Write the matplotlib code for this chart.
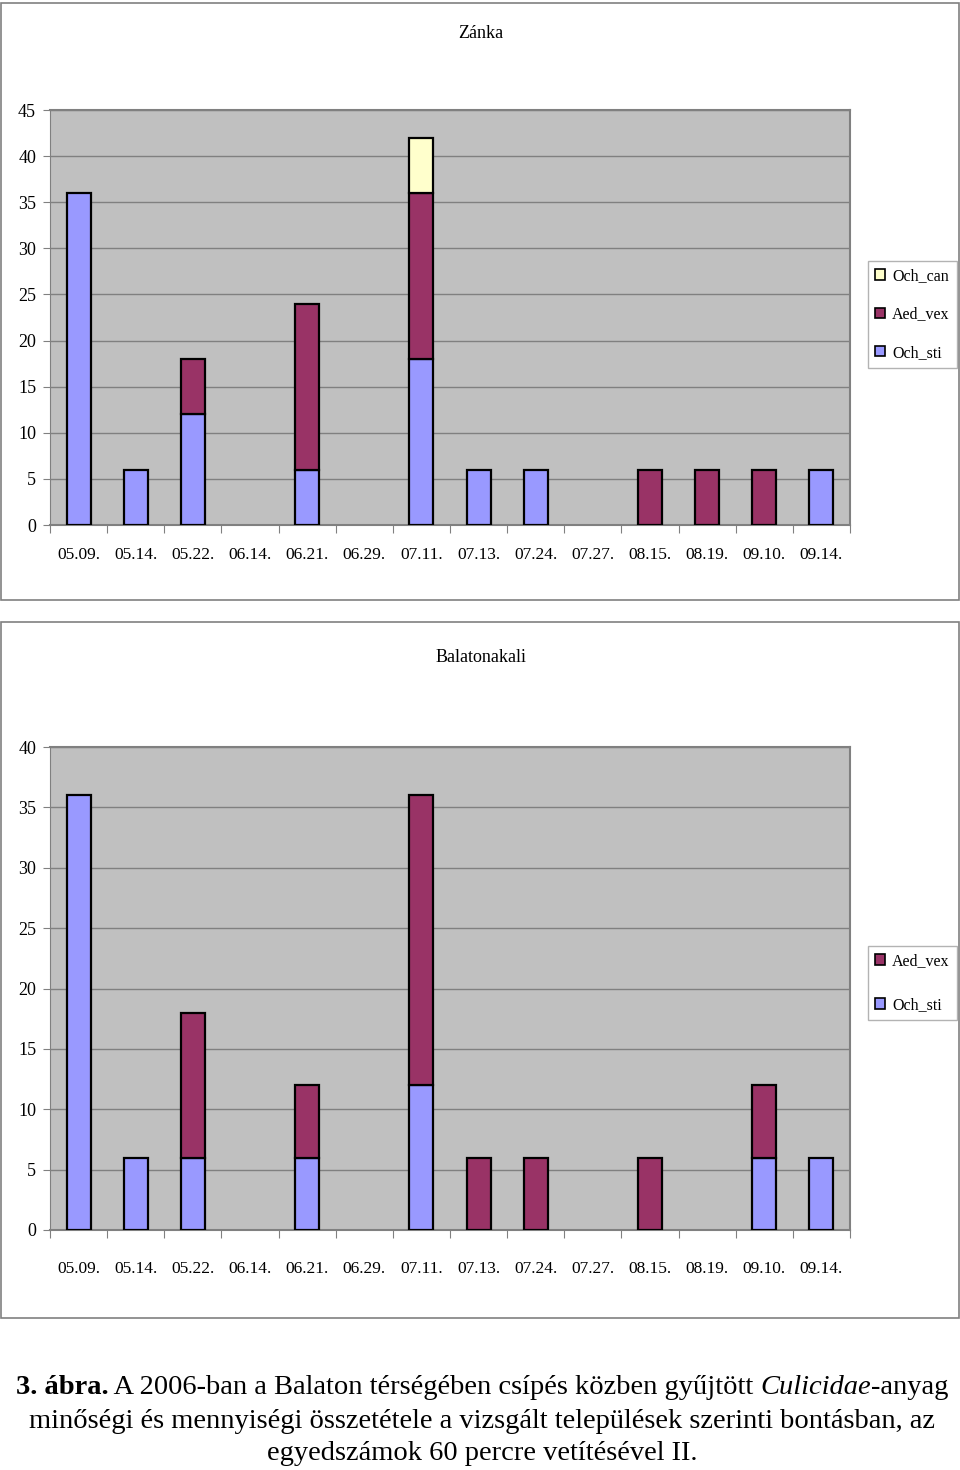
import matplotlib
matplotlib.use('Agg')
import matplotlib.pyplot as plt
from matplotlib.patches import Rectangle, Patch
import numpy as np

plt.rcParams['font.family'] = ['Liberation Serif', 'DejaVu Serif']

dates = ['05.09.', '05.14.', '05.22.', '06.14.', '06.21.', '06.29.', '07.11.',
         '07.13.', '07.24.', '07.27.', '08.15.', '08.19.', '09.10.', '09.14.']

# Zánka
z_och_sti = [36, 6, 12, 0, 6, 0, 18, 6, 6, 0, 0, 0, 0, 6]
z_aed_vex = [0, 0, 6, 0, 18, 0, 18, 0, 0, 0, 6, 6, 6, 0]
z_och_can = [0, 0, 0, 0, 0, 0, 6, 0, 0, 0, 0, 0, 0, 0]

# Balatonakali
b_och_sti = [36, 6, 6, 0, 6, 0, 12, 0, 0, 0, 0, 0, 6, 6]
b_aed_vex = [0, 0, 12, 0, 6, 0, 24, 6, 6, 0, 6, 0, 6, 0]

colors = {'Och_sti': '#9999FF', 'Aed_vex': '#993366', 'Och_can': '#FFFFCC'}

W, H = 960, 1470
fig = plt.figure(figsize=(W / 100, H / 100), dpi=100)
fig.patch.set_facecolor('white')


def fx(px):
    return px / W


def fy(py):
    return 1 - py / H


def panel(box, area, title, title_y, series, ymax, legend_xy, spacing, xpad):
    # outer frame of the chart object
    x0, y0, x1, y1 = box
    fig.patches.append(Rectangle((fx(x0), fy(y1)), fx(x1 - x0), (y1 - y0) / H,
                                 transform=fig.transFigure, fill=False,
                                 edgecolor='#808080', linewidth=1.2))
    fig.text(fx(481), fy(title_y), title, ha='center', va='center', fontsize=13)

    ax0, ay0, ax1, ay1 = area
    ax = fig.add_axes([fx(ax0), fy(ay1), fx(ax1 - ax0), (ay1 - ay0) / H])
    ax.set_facecolor('#C0C0C0')
    x = np.arange(len(dates))
    bottom = np.zeros(len(dates))
    handles = []
    for name, vals in series:
        v = np.array(vals, dtype=float)
        mask = v > 0
        ax.bar(x[mask], v[mask], bottom=bottom[mask], width=0.42,
               color=colors[name], edgecolor='black', linewidth=1.6, zorder=3)
        bottom += v
        handles.append(Patch(facecolor=colors[name], edgecolor='black', linewidth=1.2, label=name))

    ax.set_xlim(-0.5, len(dates) - 0.5)
    ax.set_ylim(0, ymax)
    ax.set_yticks(np.arange(0, ymax + 1, 5))
    ax.yaxis.grid(True, color='#808080', linewidth=1.0, zorder=1)
    ax.set_axisbelow(True)
    ax.tick_params(axis='y', length=5, width=0.8, color='#808080', pad=5, labelsize=13)

    ax.set_xticks(x)
    ax.set_xticklabels(dates)
    ax.tick_params(axis='x', which='major', length=0, pad=xpad, labelsize=12.5)
    ax.set_xticks(np.arange(-0.5, len(dates), 1), minor=True)
    ax.tick_params(axis='x', which='minor', length=6, width=0.8, color='#808080')

    for side in ['top', 'right']:
        ax.spines[side].set_color('#808080')
        ax.spines[side].set_linewidth(1.5)
    ax.spines['left'].set_color('#808080')
    ax.spines['bottom'].set_color('#808080')
    ax.spines['bottom'].set_linewidth(1.5)

    lx, ly = legend_xy
    leg = fig.legend(handles=handles[::-1], loc='upper left',
                     bbox_to_anchor=(fx(lx), fy(ly)),
                     fontsize=11.5, frameon=True, fancybox=False,
                     edgecolor='#A0A0A0', handlelength=0.6, handleheight=0.6,
                     handletextpad=0.45, labelspacing=spacing, borderpad=0.45,
                     borderaxespad=0)
    leg.get_frame().set_linewidth(1.0)
    return ax


panel((1, 3, 959, 600), (50, 110, 850, 525), 'Zánka', 34,
      [('Och_sti', z_och_sti), ('Aed_vex', z_aed_vex), ('Och_can', z_och_can)],
      45, (868, 261), 1.4, 16)

panel((1, 622, 959, 1318), (50, 747, 850, 1230), 'Balatonakali', 658,
      [('Och_sti', b_och_sti), ('Aed_vex', b_aed_vex)],
      40, (868, 946), 1.75, 22)

# caption with mixed styles
fs = 20.5
lines = [
    [('3. ábra.', 'bold', 'normal'),
     (' A 2006-ban a Balaton térségében csípés közben gyűjtött ', 'normal', 'normal'),
     ('Culicidae', 'normal', 'italic'),
     ('-anyag', 'normal', 'normal')],
    [('minőségi és mennyiségi összetétele a vizsgált települések szerinti bontásban, az',
      'normal', 'normal')],
    [('egyedszámok 60 percre vetítésével II.', 'normal', 'normal')],
]
line_y = [1388, 1421, 1453]

fig.canvas.draw()
renderer = fig.canvas.get_renderer()
for parts, yy in zip(lines, line_y):
    texts = []
    for s, wgt, sty in parts:
        t = fig.text(0, fy(yy), s, fontsize=fs, fontweight=wgt, fontstyle=sty,
                     ha='left', va='center')
        texts.append(t)
    widths = [t.get_window_extent(renderer).width for t in texts]
    total = sum(widths)
    xpos = 482 - total / 2
    for t, w in zip(texts, widths):
        t.set_x(fx(xpos))
        xpos += w

fig.savefig('out.png', dpi=100, facecolor='white')
